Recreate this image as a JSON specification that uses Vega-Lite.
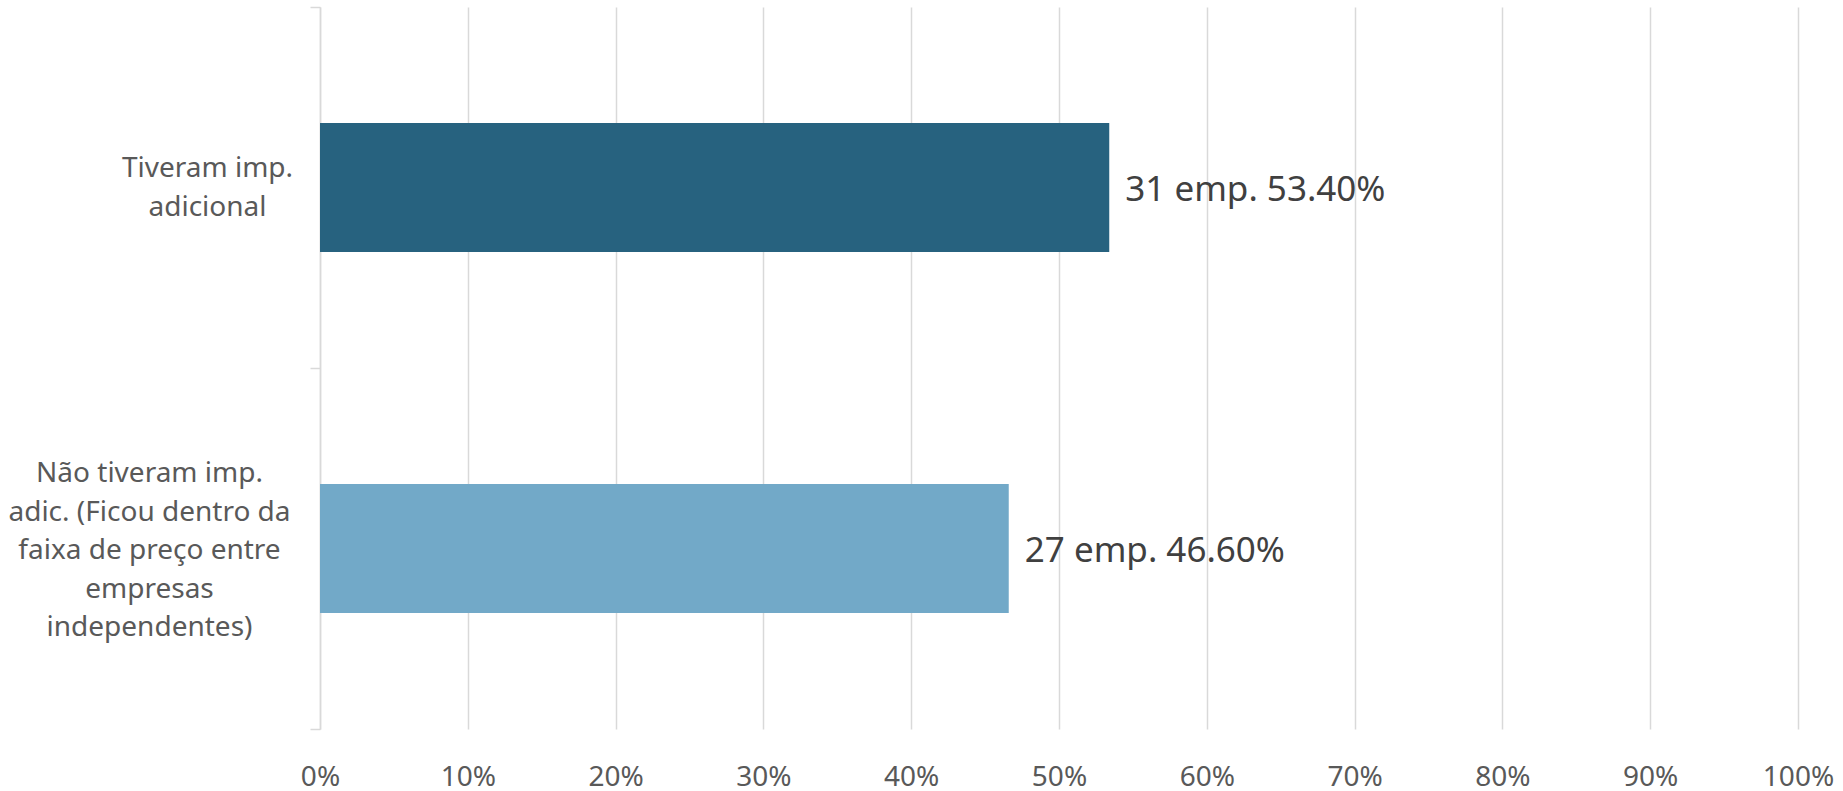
{
  "$schema": "https://vega.github.io/schema/vega-lite/v6.json",
  "width": 1478,
  "height": 722,
  "autosize": {"type": "none"},
  "padding": {"left": 320, "top": 7, "right": 45, "bottom": 62},
  "background": "white",
  "config": {
    "view": {"stroke": null},
    "font": "Noto Sans"
  },
  "data": {
    "values": [
      {"cat": "Tiveram imp. adicional", "pct": 0.534, "label": "31 emp. 53.40%"},
      {"cat": "Não tiveram imp. adic. (Ficou dentro da faixa de preço entre empresas independentes)", "pct": 0.466, "label": "27 emp. 46.60%"}
    ]
  },
  "encoding": {
    "y": {
      "field": "cat",
      "type": "nominal",
      "sort": null,
      "title": null,
      "scale": {"paddingInner": 0, "paddingOuter": 0},
      "axis": {
        "tickBand": "extent",
        "tickSize": 10,
        "tickColor": "#d9d9d9",
        "tickWidth": 1.5,
        "domainColor": "#d9d9d9",
        "domainWidth": 1.5,
        "grid": false,
        "labelAlign": "center",
        "labelBaseline": "middle",
        "labelFont": "Noto Sans",
        "labelFontSize": 28,
        "labelColor": "#595959",
        "labelLineHeight": 38.5,
        "labelLimit": 500,
        "labelPadding": {"condition": {"test": "datum.value == 'Tiveram imp. adicional'", "value": 103}, "value": 161},
        "labelOffset": {"condition": {"test": "datum.value == 'Tiveram imp. adicional'", "value": -19}, "value": -75},
        "labelExpr": "!datum.value ? '' : (datum.value == 'Tiveram imp. adicional' ? ['Tiveram imp.', 'adicional'] : ['Não tiveram imp.', 'adic. (Ficou dentro da', 'faixa de preço entre', 'empresas', 'independentes)'])"
      }
    },
    "x": {
      "field": "pct",
      "type": "quantitative",
      "title": null,
      "scale": {"domain": [0, 1], "nice": false, "zero": true},
      "axis": {
        "values": [0, 0.1, 0.2, 0.3, 0.4, 0.5, 0.6, 0.7, 0.8, 0.9, 1],
        "format": ".0%",
        "domain": false,
        "ticks": false,
        "tickSize": 0,
        "grid": true,
        "gridColor": "#d9d9d9",
        "gridWidth": 1.5,
        "labelFont": "Noto Sans",
        "labelFontSize": 28,
        "labelColor": "#595959",
        "labelPadding": 34,
        "labelFlush": false
      }
    }
  },
  "layer": [
    {
      "mark": {"type": "bar", "height": {"band": 0.357}},
      "encoding": {
        "color": {
          "field": "cat",
          "type": "nominal",
          "legend": null,
          "scale": {
            "domain": ["Tiveram imp. adicional", "Não tiveram imp. adic. (Ficou dentro da faixa de preço entre empresas independentes)"],
            "range": ["#27627f", "#72a9c8"]
          }
        }
      }
    },
    {
      "mark": {"type": "text", "align": "left", "baseline": "middle", "dx": 16, "dy": 2, "fontSize": 35, "font": "Noto Sans", "color": "#404040"},
      "encoding": {"text": {"field": "label", "type": "nominal"}}
    }
  ]
}
